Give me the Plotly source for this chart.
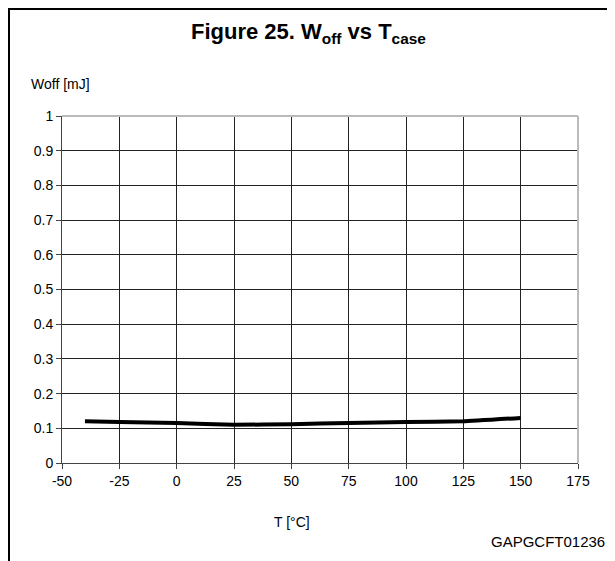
import plotly.graph_objects as go

# curve
temp_c = [-40, -25, 0, 25, 50, 75, 100, 125, 150]
woff_mj = [0.12, 0.118, 0.115, 0.11, 0.112, 0.115, 0.118, 0.12, 0.13]

x_ticks = [-50, -25, 0, 25, 50, 75, 100, 125, 150, 175]
x_labels = ["-50", "-25", "0", "25", "50", "75", "100", "125", "150", "175"]
y_ticks = [0, 0.1, 0.2, 0.3, 0.4, 0.5, 0.6, 0.7, 0.8, 0.9, 1]

# the page puts the plot 8px in from the corner, so size it to fill the rest
OFF = 8
W, H = 615 - OFF, 561 - OFF
L, R, T, B = 62 - OFF, 37, 116 - OFF, 98
pw, ph = W - L - R, H - T - B


def px(x):
    # reference pixel -> paper
    return (x - OFF - L) / pw


def py(y):
    return (H - B - (y - OFF)) / ph


fig = go.Figure()
fig.add_trace(go.Scatter(x=temp_c, y=woff_mj, mode="lines",
                         line=dict(color="black", width=4, shape="spline", smoothing=0.3),
                         showlegend=False))

font = "Liberation Sans, Arial, sans-serif"
axis_common = dict(showgrid=True, gridcolor="#222", gridwidth=1,
                   showline=True, linecolor="#444", linewidth=1, ticks="outside", ticklen=5,
                   tickcolor="#444", zeroline=False, tickfont=dict(size=14))
fig.update_layout(
    width=W, height=H,
    margin=dict(l=L, r=R, t=T, b=B),
    paper_bgcolor="white", plot_bgcolor="white",
    font=dict(family=font, size=14, color="black"),
    xaxis=dict(range=[-50, 175], tickvals=x_ticks, ticktext=x_labels, **axis_common),
    yaxis=dict(range=[0, 1], tickvals=y_ticks, ticktext=[str(v) for v in y_ticks], **axis_common),
)

# light top/right edges like the original
fig.add_shape(type="line", xref="paper", yref="paper", x0=0, x1=1, y0=1, y1=1,
              line=dict(color="#bbb", width=2))
fig.add_shape(type="line", xref="paper", yref="paper", x0=1, x1=1, y0=0, y1=1,
              line=dict(color="#bbb", width=2))

# page frame lines (as close to the corner as the page allows)
fig.add_shape(type="line", xref="paper", yref="paper", x0=px(OFF + 1), x1=px(615), y0=py(OFF + 1), y1=py(OFF + 1),
              line=dict(color="black", width=2))
fig.add_shape(type="line", xref="paper", yref="paper", x0=px(OFF + 1), x1=px(OFF + 1), y0=py(OFF), y1=py(561),
              line=dict(color="black", width=2))

fig.add_annotation(text="<b>Figure 25. W<sub>off</sub> vs T<sub>case</sub></b>",
                   xref="paper", yref="paper", x=px(308), y=py(17), yanchor="top", showarrow=False,
                   font=dict(size=22, family=font))
fig.add_annotation(text="Woff [mJ]", xref="paper", yref="paper", x=px(29), y=py(84),
                   xanchor="left", yanchor="middle", showarrow=False, font=dict(size=14))
fig.add_annotation(text="T [°C]", xref="paper", yref="paper", x=px(292), y=py(522),
                   yanchor="middle", showarrow=False, font=dict(size=14))
fig.add_annotation(text="GAPGCFT01236", xref="paper", yref="paper", x=px(607), y=py(541),
                   xanchor="right", yanchor="middle", showarrow=False, font=dict(size=15))

fig.write_html("out.html")
